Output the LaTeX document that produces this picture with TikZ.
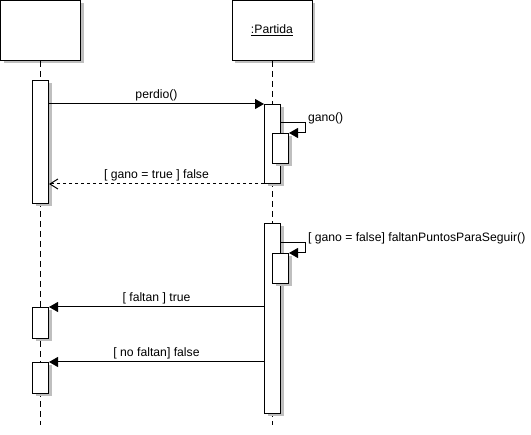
\documentclass[tikz,border=0pt]{standalone}
\usepackage{fontspec}
\setmainfont{Liberation Sans}
\usetikzlibrary{arrows.meta,shadows}

\tikzset{
    boxshadow/.style={drop shadow={shadow xshift=3pt, shadow yshift=-3pt, opacity=1, fill=black!25}},
    head/.style={draw, fill=white, boxshadow, minimum width=80pt, minimum height=60pt, inner sep=0pt},
    act/.style={draw, fill=white, boxshadow, minimum width=16pt, inner sep=0pt, anchor=north west},
    lifeline/.style={dash pattern=on 6pt off 4pt},
    call/.style={-{Triangle[length=9pt,width=10pt]}},
    reply/.style={dash pattern=on 3pt off 3pt, -{Straight Barb[length=8pt,width=10pt]}},
    msg/.style={midway, anchor=base, yshift=5.5pt, inner sep=0pt},
    selfmsg/.style={anchor=base west, inner sep=2.5pt, yshift=1pt}
}

\begin{document}
\begin{tikzpicture}[x=1pt, y=-1pt, line width=1pt, font=\fontsize{12.2}{14}\selectfont]
    \useasboundingbox (0,0) rectangle (531,435);

    % lifelines
    \node[head] (actor) at (40.5,30.5) {};
    \node[head] (partida) at (272,30.5) {\underline{:Partida}};
    \coordinate (actorEnd) at (40,425);
    \coordinate (partidaEnd) at (272,425);
    \draw[lifeline] (actor.south -| actorEnd) -- (actorEnd);
    \draw[lifeline] (partida.south -| partidaEnd) -- (partidaEnd);

    % activations
    \node[act, minimum height=123pt] (actA) at (32,80) {};
    \node[act, minimum height=79pt] (actP) at (264,104) {};
    \node[act, minimum height=30pt] (actGano) at (272,133) {};
    \node[act, minimum height=190pt] (actP2) at (264,223) {};
    \node[act, minimum height=30pt] (actFaltan) at (272,253) {};
    \node[act, minimum height=31pt] (actTrue) at (32,307) {};
    \node[act, minimum height=31pt] (actFalse) at (32,362) {};

    % messages
    \draw[call] (actA.east |- actP.north west) -- (actP.north west) node[msg] {perdio()};
    \draw[call] ([yshift=-19pt]actP.north east) -- ++(24,0) node[selfmsg] {gano()} |- (actGano.north east);
    \draw[reply] (actP.south west) -- (actA.east |- actP.south west) node[msg] {[ gano = true ] false};
    \draw[call] ([yshift=-20pt]actP2.north east) -- ++(24,0) node[selfmsg] {[ gano = false] faltanPuntosParaSeguir()} |- (actFaltan.north east);
    \draw[call] (actP2.west |- actTrue.north) -- (actTrue.north east) node[msg] {[ faltan ] true};
    \draw[call] (actP2.west |- actFalse.north) -- (actFalse.north east) node[msg] {[ no faltan] false};
\end{tikzpicture}
\end{document}
